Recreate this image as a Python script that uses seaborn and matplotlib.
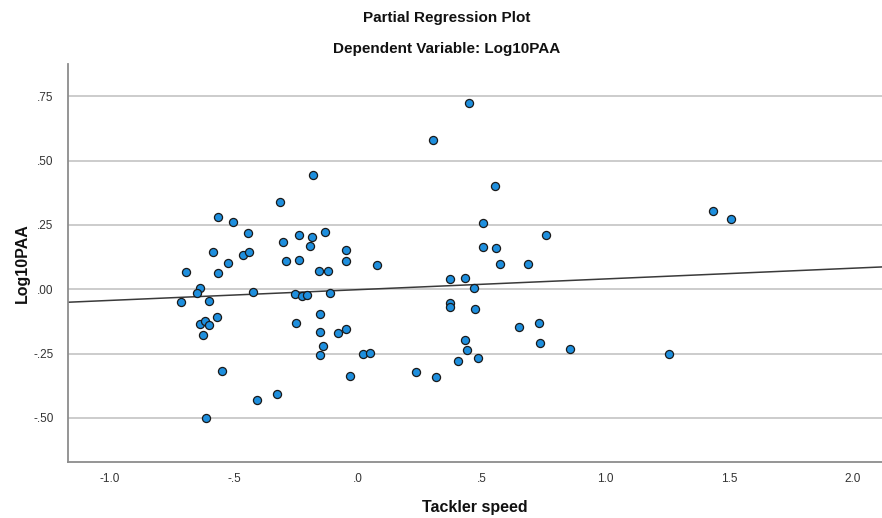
import matplotlib
matplotlib.use("Agg")
import matplotlib.pyplot as plt
import seaborn as sns
import numpy as np
import pandas as pd

# Data (partial residuals)
tackler_speed = [
    -0.180, -0.312, -0.566, -0.504, -0.445, -0.301, -0.239, -0.184, -0.193, -0.586,
    -0.463, -0.441, -0.524, -0.289, -0.239, -0.694, -0.563, -0.157, -0.637, -0.648,
    -0.713, -0.600, -0.421, -0.252, -0.225, -0.203, -0.567, -0.636, -0.617, -0.600,
    -0.625, -0.248, -0.547, -0.407, -0.328, -0.614, -0.153, -0.153, -0.154, 0.450,
    0.304, 0.556, 0.504, 0.760, 0.504, 0.558, 0.575, 0.688, -0.132, -0.049,
    -0.049, 0.076, -0.120, 0.372, 0.433, 0.470, -0.110, 0.371, 0.371, 0.474,
    -0.079, -0.049, -0.139, 0.021, 0.050, -0.033, 0.237, 0.316, 0.433, 0.442,
    0.405, 0.484, 0.651, 0.730, 0.734, 1.434, 1.508, 0.858, 1.258,
]
log10paa = [
    0.444, 0.338, 0.281, 0.260, 0.219, 0.185, 0.210, 0.204, 0.168, 0.145,
    0.132, 0.146, 0.101, 0.108, 0.115, 0.068, 0.064, 0.072, 0.006, -0.014,
    -0.051, -0.045, -0.012, -0.020, -0.026, -0.023, -0.108, -0.135, -0.125, -0.139,
    -0.178, -0.130, -0.319, -0.432, -0.409, -0.502, -0.098, -0.168, -0.256, 0.723,
    0.580, 0.401, 0.256, 0.210, 0.163, 0.159, 0.097, 0.099, 0.224, 0.152,
    0.108, 0.094, 0.072, 0.040, 0.042, 0.005, -0.016, -0.055, -0.070, -0.078,
    -0.169, -0.155, -0.220, -0.253, -0.247, -0.336, -0.323, -0.343, -0.198, -0.235,
    -0.278, -0.266, -0.147, -0.131, -0.208, 0.304, 0.274, -0.234, -0.253,
]
x_ticks = [-1.0, -0.5, 0.0, 0.5, 1.0, 1.5, 2.0]
x_tick_labels = ["-1.0", "-.5", ".0", ".5", "1.0", "1.5", "2.0"]
y_ticks = [-0.50, -0.25, 0.00, 0.25, 0.50, 0.75]
y_tick_labels = ["-.50", "-.25", ".00", ".25", ".50", ".75"]

df = pd.DataFrame({"Tackler speed": tackler_speed, "Log10PAA": log10paa})

sns.set_theme(style="white")
plt.rcParams["font.family"] = ["Liberation Sans", "DejaVu Sans"]

fig = plt.figure(figsize=(8.82, 5.18), dpi=100)
ax = fig.add_axes([67.5 / 882, 1 - 462 / 518, 1 - 67.5 / 882, (462 - 64) / 518])

ax.set_xlim(-1.172, 2.117)
ax.set_ylim(-0.672, 0.876)

for yt in y_ticks:
    ax.axhline(yt, color="#c8c8c8", lw=1.3, zorder=0)

sns.regplot(data=df, x="Tackler speed", y="Log10PAA", ax=ax, ci=None, truncate=False,
            scatter_kws=dict(s=34, color="#1e8fde", edgecolor="#1a1a1a", linewidths=0.9,
                             alpha=1, zorder=3),
            line_kws=dict(color="#3a3a3a", lw=1.1, zorder=2))

ax.set_xlim(-1.172, 2.117)
ax.set_ylim(-0.672, 0.876)
ax.set_xticks(x_ticks)
ax.set_xticklabels(x_tick_labels)
ax.set_yticks(y_ticks)
ax.set_yticklabels(y_tick_labels)
ax.tick_params(axis="both", length=0, labelsize=8.5, colors="#333333")
ax.tick_params(axis="y", pad=10)
ax.tick_params(axis="x", pad=8)

for s in ["top", "right"]:
    ax.spines[s].set_visible(False)
for s in ["left", "bottom"]:
    ax.spines[s].set_color("#8c8c8c")
    ax.spines[s].set_linewidth(1.3)

ax.set_xlabel("Tackler speed", fontsize=11.5, fontweight="bold", color="#111111")
ax.set_ylabel("Log10PAA", fontsize=11.5, fontweight="bold", color="#111111")
ax.xaxis.set_label_coords(0.5, -(500 - 462) / 398)
ax.yaxis.set_label_coords(-(67.5 - 30) / 814.5, 0.5)

fig.text(447 / 882, 1 - 18 / 518, "Partial Regression Plot", ha="center", va="center",
         fontsize=11, fontweight="bold", color="#111111")
fig.text(447 / 882, 1 - 49 / 518, "Dependent Variable: Log10PAA", ha="center", va="center",
         fontsize=11, fontweight="bold", color="#111111")

fig.savefig("out.png", dpi=100)
